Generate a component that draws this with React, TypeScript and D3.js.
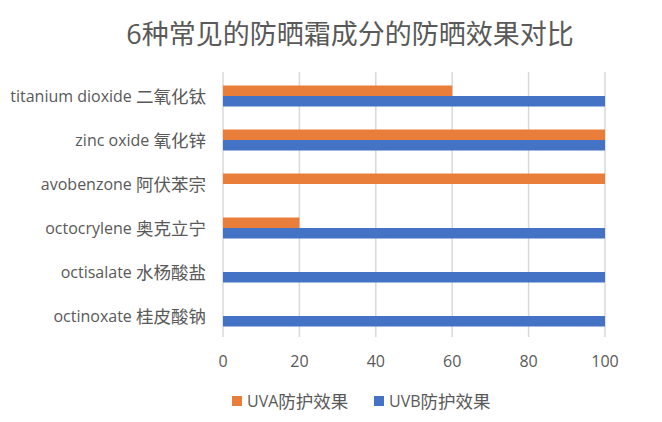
import React from "react";
import * as d3 from "d3";

const categories = [
  "titanium dioxide 二氧化钛",
  "zinc oxide 氧化锌",
  "avobenzone 阿伏苯宗",
  "octocrylene 奥克立宁",
  "octisalate 水杨酸盐",
  "octinoxate 桂皮酸钠",
];
const uvaValues = [60, 100, 100, 20, 0, 0];
const uvbValues = [100, 100, 0, 100, 100, 100];
const seriesNames = ["UVA防护效果", "UVB防护效果"];
const seriesColors = ["#E97D3A", "#4472C4"];
const xTicks = [0, 20, 40, 60, 80, 100];
const title = "6种常见的防晒霜成分的防晒效果对比";

const FONT = "'Open Sans', 'Noto Sans CJK SC', sans-serif";

// split into runs of latin / CJK text so CJK glyphs can be sized like the original
function runs(s: string): { t: string; cjk: boolean }[] {
  const out: { t: string; cjk: boolean }[] = [];
  for (const ch of s) {
    const cjk = /[\u3000-\u9fff]/.test(ch);
    const last = out[out.length - 1];
    if (last && last.cjk === cjk) last.t += ch;
    else out.push({ t: ch, cjk });
  }
  return out;
}

function MixedText({ s, latin, cjk }: { s: string; latin: number; cjk: number }) {
  return (
    <>
      {runs(s).map((r, i) => (
        <tspan key={i} fontSize={r.cjk ? cjk : latin}>
          {r.t}
        </tspan>
      ))}
    </>
  );
}

export default function App() {
  const W = 662, H = 422;
  const x = d3.scaleLinear().domain([0, 100]).range([223, 605]);
  const y = d3
    .scaleBand<string>()
    .domain(categories)
    .range([74, 338])
    .paddingInner(23 / 44)
    .paddingOuter(23 / 88);
  const sub = d3.scaleBand<string>().domain(seriesNames).range([0, y.bandwidth()]);
  const series = [uvaValues, uvbValues];

  return (
    <svg width={W} height={H} style={{ position: "absolute", left: 0, top: 0, background: "#fff" }} fontFamily={FONT}>
      <rect width={W} height={H} fill="#fff" />
      <text x={350} y={33} textAnchor="middle" dominantBaseline="central" fontSize={27} fill="#595959">
        {title}
      </text>
      {xTicks.map((t) => (
        <g key={t}>
          <line x1={x(t)} x2={x(t)} y1={72} y2={337} stroke="#D9D9D9" strokeWidth={1.5} />
          <text x={x(t)} y={361} textAnchor="middle" dominantBaseline="central" fontSize={16} fill="#595959">
            {t}
          </text>
        </g>
      ))}
      {categories.map((c, i) => (
        <g key={c}>
          <text x={206} y={(y(c) ?? 0) + y.bandwidth() / 2} textAnchor="end" dominantBaseline="central" fill="#595959">
            <MixedText s={c} latin={16} cjk={17.5} />
          </text>
          {series.map((vals, s) =>
            vals[i] > 0 ? (
              <rect
                key={s}
                x={x(0)}
                y={(y(c) ?? 0) + (sub(seriesNames[s]) ?? 0)}
                width={x(vals[i]) - x(0)}
                height={sub.bandwidth()}
                fill={seriesColors[s]}
              />
            ) : null
          )}
        </g>
      ))}
      {seriesNames.map((n, s) => {
        const lx = [232, 374][s];
        return (
          <g key={n}>
            <rect x={lx} y={396} width={10} height={10} fill={seriesColors[s]} />
            <text x={lx + 15} y={401} dominantBaseline="central" fill="#595959">
              <MixedText s={n} latin={16} cjk={17.5} />
            </text>
          </g>
        );
      })}
    </svg>
  );
}
